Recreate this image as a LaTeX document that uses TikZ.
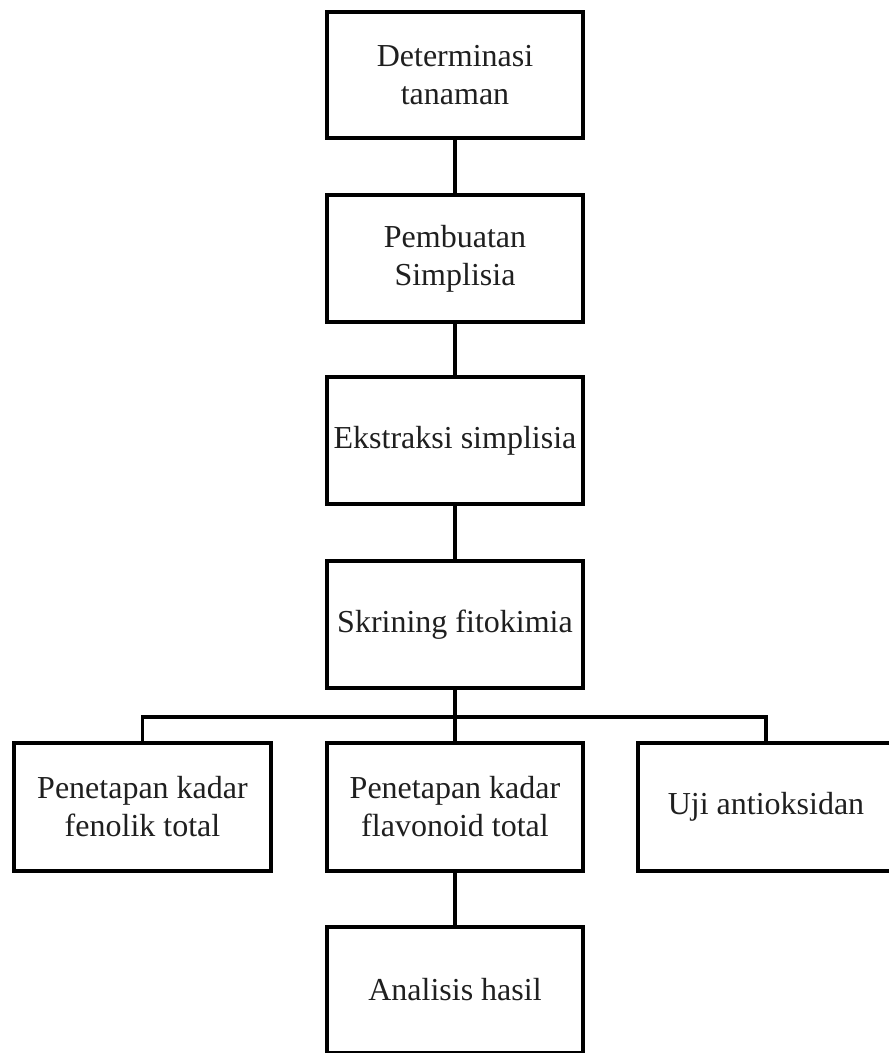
\documentclass[tikz,border=0pt]{standalone}
\usepackage{fontspec}
\setmainfont{Liberation Serif}
\begin{document}
\begin{tikzpicture}[x=1pt,y=-1pt,
  box/.style={draw=black, line width=3.6pt, rectangle, align=center, inner sep=0pt,
    font=\fontsize{32}{38}\selectfont, text=black!88},
  link/.style={draw=black, line width=3.6pt}]
\useasboundingbox (0,0) rectangle (889,1053);
\node[box, minimum width=256pt, minimum height=126pt] (b1) at (455,75) {Determinasi\\tanaman};
\node[box, minimum width=256pt, minimum height=127pt] (b2) at (455,258.5) {Pembuatan\\Simplisia};
\node[box, minimum width=256pt, minimum height=127pt] (b3) at (455,440.5) {Ekstraksi simplisia};
\node[box, minimum width=256pt, minimum height=127pt] (b4) at (455,624.5) {Skrining fitokimia};
\node[box, minimum width=257pt, minimum height=128pt] (b5) at (142.5,807) {Penetapan kadar\\fenolik total};
\node[box, minimum width=256pt, minimum height=128pt] (b6) at (455,807) {Penetapan kadar\\flavonoid total};
\node[box, minimum width=256pt, minimum height=128pt] (b7) at (766,807) {Uji antioksidan};
\node[box, minimum width=256pt, minimum height=126pt] (b8) at (455,990) {Analisis hasil};
\coordinate (j) at (455,717);
\draw[link] (b1.south) -- (b2.north);
\draw[link] (b2.south) -- (b3.north);
\draw[link] (b3.south) -- (b4.north);
\draw[link] (b4.south) -- (b6.north);
\draw[link] (b5.north) |- (j) -| (b7.north);
\draw[link] (b6.south) -- (b8.north);
\end{tikzpicture}
\end{document}
